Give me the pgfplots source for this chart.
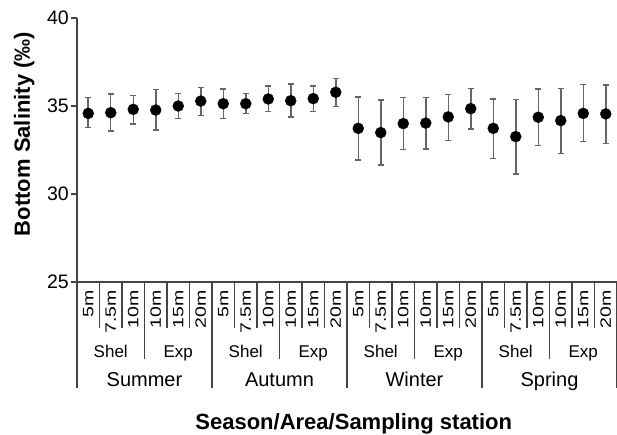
\documentclass[border=0pt]{standalone}
\usepackage{fontspec}
\setmainfont{Liberation Sans}
\usepackage{graphicx}
\usepackage{pgfplots}
\pgfplotsset{compat=1.18}
\usepackage{pgfplotstable}
\definecolor{axisgray}{HTML}{444444}
\definecolor{bargray}{HTML}{666666}
\newcommand{\st}[1]{\scalebox{1.3}[1]{#1}}

% station centre, mean, upper and lower end of the bar
\pgfplotstableread{
x    y     hi    lo
0.5  34.58 35.47 33.77
1.5  34.62 35.68 33.58
2.5  34.81 35.60 33.98
3.5  34.77 35.95 33.64
4.5  35.00 35.72 34.28
5.5  35.28 36.06 34.45
6.5  35.13 35.97 34.30
7.5  35.13 35.70 34.58
8.5  35.40 36.15 34.68
9.5  35.30 36.25 34.38
10.5 35.42 36.15 34.68
11.5 35.78 36.55 34.96
12.5 33.73 35.51 31.93
13.5 33.49 35.34 31.65
14.5 34.00 35.47 32.52
15.5 34.03 35.49 32.56
16.5 34.38 35.66 33.03
17.5 34.85 36.00 33.68
18.5 33.73 35.40 32.03
19.5 33.26 35.38 31.14
20.5 34.36 35.97 32.75
21.5 34.17 36.00 32.31
22.5 34.58 36.21 32.97
23.5 34.55 36.19 32.86
}\salinity

\begin{document}
\begin{tikzpicture}
\begin{axis}[
  scale only axis, width=540pt, height=264pt,
  xmin=0, xmax=24, ymin=25, ymax=40,
  axis x line=bottom, axis y line=left,
  axis line style={-, axisgray, line width=1.6pt},
  ytick={25,30,35,40},
  y tick label style={font=\fontsize{19.5}{19.5}\selectfont, inner sep=2pt},
  /pgf/number format/assume math mode=true,
  tick align=outside, major tick length=6pt,
  every tick/.style={axisgray, line width=1.6pt},
  xtick={0.5,1.5,...,23.5},
  xticklabels={\st{5m},\st{7.5m},\st{10m},\st{10m},\st{15m},\st{20m},
               \st{5m},\st{7.5m},\st{10m},\st{10m},\st{15m},\st{20m},
               \st{5m},\st{7.5m},\st{10m},\st{10m},\st{15m},\st{20m},
               \st{5m},\st{7.5m},\st{10m},\st{10m},\st{15m},\st{20m}},
  x tick label style={rotate=90, anchor=east, inner sep=2pt,
                      font=\fontsize{15}{15}\selectfont},
  major x tick style={draw=none},
  clip=false,
]
\addplot[only marks, mark=*, mark size=5.5pt, black,
  error bars/.cd, y dir=both, y explicit,
  error bar style={bargray, line width=1.5pt},
  error mark options={rotate=90, mark size=3pt, bargray, line width=1.5pt}]
  table[x=x, y=y, y error plus expr=\thisrow{hi}-\thisrow{y},
        y error minus expr=\thisrow{y}-\thisrow{lo}] {\salinity};

% station / area / season dividers (17.6pt per unit below the axis)
\pgfplotsinvokeforeach{1,2,4,5,7,8,10,11,13,14,16,17,19,20,22,23}{
  \draw[axisgray, line width=1.6pt] (axis cs:#1,25) -- (axis cs:#1,22.386);}
\pgfplotsinvokeforeach{3,9,15,21}{
  \draw[axisgray, line width=1.6pt] (axis cs:#1,25) -- (axis cs:#1,20.625);}
\pgfplotsinvokeforeach{0,6,12,18,24}{
  \draw[axisgray, line width=1.6pt] (axis cs:#1,25) -- (axis cs:#1,18.977);}

\pgfplotsinvokeforeach{1.5,7.5,13.5,19.5}{
  \node[anchor=base, font=\fontsize{17}{17}\selectfont, yshift=-75pt] at (axis cs:#1,25) {Shel};}
\pgfplotsinvokeforeach{4.5,10.5,16.5,22.5}{
  \node[anchor=base, font=\fontsize{17}{17}\selectfont, yshift=-75pt] at (axis cs:#1,25) {Exp};}
\node[anchor=base, font=\fontsize{20}{20}\selectfont, yshift=-104pt] at (axis cs:3,25) {Summer};
\node[anchor=base, font=\fontsize{20}{20}\selectfont, yshift=-104pt] at (axis cs:9,25) {Autumn};
\node[anchor=base, font=\fontsize{20}{20}\selectfont, yshift=-104pt] at (axis cs:15,25) {Winter};
\node[anchor=base, font=\fontsize{20}{20}\selectfont, yshift=-104pt] at (axis cs:21,25) {Spring};

\node[anchor=base, font=\bfseries\fontsize{22}{22}\selectfont, yshift=-147pt] at (axis cs:12.3,25) {Season/Area/Sampling station};
\node[xshift=-47pt, rotate=90, anchor=base, font=\bfseries\fontsize{22}{22}\selectfont] at (axis cs:0,33.41) {Bottom Salinity (‰)};

\coordinate (o) at (axis cs:0,25);
\end{axis}
\pgfresetboundingbox
\path[use as bounding box] (o) ++(-77pt,-153pt) rectangle ++(617pt,435pt);
\end{tikzpicture}
\end{document}
